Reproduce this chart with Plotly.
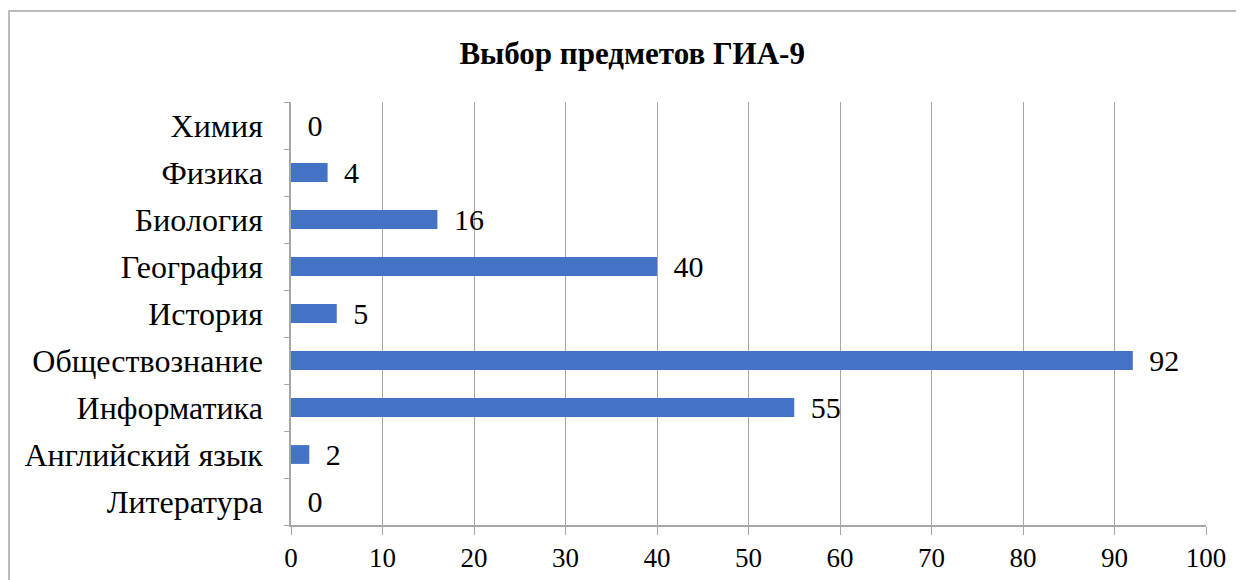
import plotly.graph_objects as go

# Subjects chosen for the GIA-9 exam (bottom to top)
subjects = ['Литература', 'Английский язык', 'Информатика', 'Обществознание',
            'История', 'География', 'Биология', 'Физика', 'Химия']
counts = [0, 2, 55, 92, 5, 40, 16, 4, 0]
x_ticks = [0, 10, 20, 30, 40, 50, 60, 70, 80, 90, 100]

serif = 'Liberation Serif, Times New Roman, serif'
grid = '#A6A6A6'

fig = go.Figure(go.Bar(
    x=counts, y=subjects, orientation='h',
    marker=dict(color='#4472C4', line=dict(width=0)),
    text=counts, texttemplate='\u00a0\u2009%{text}',
    textposition='outside', cliponaxis=False, constraintext='none',
    textfont=dict(family=serif, size=30, color='black'),
))

# page body adds an 8px margin, so everything is placed 8px up/left
fig.update_layout(
    width=1236, height=572,
    margin=dict(l=283, r=38, t=94, b=55),
    paper_bgcolor='white', plot_bgcolor='white',
    bargap=0.6, showlegend=False,
    title=dict(text='<b>Выбор предметов ГИА-9</b>', x=0.505, xanchor='center',
               y=0.921, yanchor='middle',
               font=dict(family=serif, size=31, color='black')),
    font=dict(family=serif, color='black'),
)

fig.update_xaxes(
    range=[0, 100], tickvals=x_ticks, showgrid=True, gridcolor=grid, gridwidth=1,
    showline=True, linecolor=grid, linewidth=1.5, ticks='outside', ticklen=8,
    tickcolor=grid, ticklabelstandoff=0, automargin=False,
    tickfont=dict(family=serif, size=27, color='black'),
    zeroline=False, mirror=False, fixedrange=True,
)
fig.update_yaxes(
    showgrid=False, showline=True, linecolor=grid, linewidth=1.5,
    ticks='outside', tickson='boundaries', ticklen=5, tickcolor=grid,
    ticklabelstandoff=20, automargin=False,
    tickfont=dict(family=serif, size=32, color='black'),
    zeroline=False,
)

# outer chart border
fig.add_shape(type='rect', xref='paper', yref='paper',
              x0=(1 - 283) / 915, x1=1.2, y0=-0.3, y1=(517 - 3) / 423,
              line=dict(color='#A6A6A6', width=1.5), layer='below')

fig.write_html('out.html')
